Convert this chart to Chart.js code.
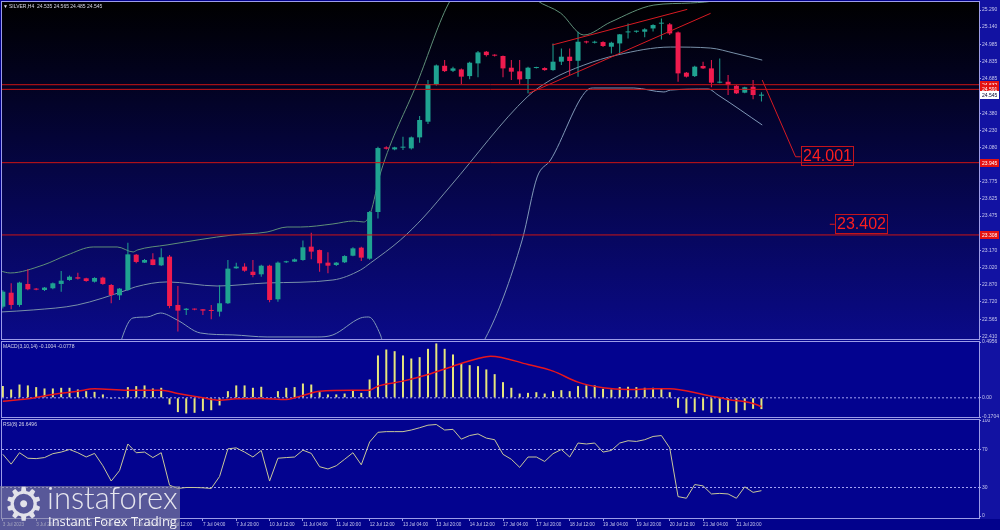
<!DOCTYPE html>
<html>
<head>
<meta charset="utf-8">
<script src="https://cdn.jsdelivr.net/npm/chart.js@4.4.1/dist/chart.umd.min.js"></script>
<style>
html,body{margin:0;padding:0;background:#02028c;width:1000px;height:530px;overflow:hidden;font-family:"Liberation Sans",Arial,sans-serif;}
#strip{position:absolute;left:979px;top:0;width:21px;height:519px;background:#1212a2;}
canvas{position:absolute;left:0;}
#cPrice{top:0;} #cMacd{top:336px;} #cRsi{top:419px;}
.lbl{position:absolute;color:#d8d8ea;font-size:5px;line-height:6px;white-space:nowrap;}
#logoBox{position:absolute;left:0;top:486px;width:180px;height:44px;background:rgba(140,140,160,0.62);}
#logoGear{position:absolute;left:3px;top:478px;font-size:46px;line-height:52px;color:#e2e2ea;font-family:"DejaVu Sans",sans-serif;}
#logoName{position:absolute;left:47px;top:479px;font-size:31px;line-height:36px;font-weight:300;color:#e6e6ee;font-family:Lato,"Open Sans",sans-serif;}
#logoTag{position:absolute;left:48px;top:513px;font-size:13px;line-height:16px;color:#f2f2f6;font-family:"Open Sans",sans-serif;}
</style>
</head>
<body>
<div id="strip"></div>
<canvas id="cPrice" width="1000" height="340"></canvas>
<canvas id="cMacd" width="1000" height="83"></canvas>
<canvas id="cRsi" width="1000" height="111"></canvas>
<div class="lbl" style="left:3px;top:3px;">&#9660;</div>
<div class="lbl" style="left:9px;top:3px;">SILVER,H4&nbsp; 24.535 24.565 24.485 24.545</div>
<div class="lbl" style="left:3px;top:343px;">MACD(3,10,14) -0.1004 -0.0778</div>
<div class="lbl" style="left:3px;top:421px;">RSI(8) 26.6496</div>
<div id="logoBox"></div>
<div id="logoGear">&#9881;</div>
<div id="logoName">instaforex</div>
<div id="logoTag">Instant Forex Trading</div>
<script>
// ---------- DATA ----------
const open = [22.676,22.799,22.691,22.876,22.835,22.823,22.838,22.876,22.911,22.935,
22.926,22.896,22.932,22.867,22.776,22.823,23.134,23.064,23.093,23.040,
23.117,22.691,22.647,22.655,22.653,22.647,22.632,22.706,23.014,23.029,
22.984,22.961,23.037,22.741,23.067,23.073,23.087,23.205,23.175,23.064,
23.043,23.067,23.125,23.196,23.099,23.510,24.080,24.062,24.077,24.071,
24.168,24.306,24.635,24.799,24.755,24.767,24.708,24.820,24.923,24.893,
24.885,24.782,24.750,24.682,24.779,24.779,24.761,24.835,24.879,24.843,
25.011,25.002,25.008,24.967,24.996,25.093,25.099,25.099,25.128,25.170,
25.164,25.093,24.738,24.708,24.797,24.776,24.650,24.658,24.623,24.562,
24.614,24.535];
const high = [22.82,22.882,22.895,23.005,22.84,22.85,22.89,22.99,22.95,22.975,
22.93,22.935,22.94,22.875,22.84,23.24,23.14,23.095,23.146,23.19,
23.131,22.858,22.665,22.66,22.655,22.691,22.867,23.087,23.064,23.058,
23.087,23.045,23.045,23.073,23.08,23.10,23.258,23.328,23.18,23.155,
23.07,23.13,23.20,23.205,23.52,24.085,24.09,24.085,24.174,24.175,
24.356,24.673,24.81,24.849,24.79,24.775,24.835,24.93,24.93,24.90,
24.89,24.849,24.849,24.79,24.79,24.785,24.996,24.952,24.952,25.099,
25.02,25.02,25.015,25.01,25.08,25.172,25.11,25.13,25.165,25.216,
25.175,25.10,24.745,24.80,24.835,24.849,24.864,24.717,24.63,24.615,
24.673,24.565];
const low = [22.66,22.653,22.676,22.82,22.82,22.815,22.83,22.808,22.905,22.915,
22.895,22.89,22.87,22.706,22.735,22.815,23.058,23.06,23.04,23.035,
22.661,22.456,22.603,22.645,22.603,22.565,22.59,22.70,23.01,22.984,
22.935,22.94,22.715,22.72,23.06,23.07,23.08,23.093,22.984,22.97,
23.035,23.06,23.12,23.079,23.09,23.454,24.06,24.055,24.056,24.06,
24.121,24.286,24.625,24.745,24.745,24.638,24.68,24.697,24.88,24.88,
24.697,24.673,24.638,24.556,24.775,24.755,24.755,24.805,24.717,24.703,
24.995,24.995,24.965,24.908,24.908,25.04,25.09,25.05,25.10,25.03,
25.07,24.658,24.695,24.70,24.77,24.609,24.645,24.541,24.55,24.556,
24.503,24.485];
const close = [22.808,22.691,22.888,22.829,22.826,22.844,22.882,22.905,22.940,22.923,
22.902,22.929,22.876,22.779,22.835,23.137,23.070,23.087,23.043,23.111,
22.682,22.641,22.658,22.650,22.641,22.638,22.706,23.011,23.029,22.993,
22.955,23.037,22.735,23.064,23.076,23.093,23.199,23.161,23.058,23.037,
23.064,23.122,23.190,23.108,23.510,24.074,24.068,24.080,24.086,24.168,
24.321,24.638,24.802,24.752,24.776,24.703,24.826,24.917,24.893,24.888,
24.776,24.747,24.679,24.782,24.785,24.761,24.835,24.879,24.841,25.011,
25.005,25.011,24.973,25.002,25.076,25.099,25.102,25.120,25.158,25.174,
25.084,24.732,24.703,24.791,24.776,24.650,24.656,24.629,24.556,24.609,
24.541,24.545];

// band lines (x = bar index, y = price)
const bandAX = [-0.3,0.88,4.84,7.72,10.84,13.72,15.64,16.12,19.7,27.6,31.7,34.1,35.7,39.6,42.1,43.3,44.1,45.3,49.7,53.7,58.8,64.0,66.9,69.7,72.9,78.1,82.5,85.8,91.2];
const bandAY = [22.990,22.973,23.043,23.131,23.202,23.202,23.158,23.175,23.220,23.308,23.334,23.378,23.378,23.405,23.431,23.422,23.501,23.854,24.647,25.378,25.75,25.378,25.264,25.070,25.184,25.334,25.352,25.378,25.51];
const bandBX = [-0.3,3.64,8.92,14.9,15.9,19.7,25.7,31.7,39.6,42.9,44.1,47.7,50.5,53.7,62.9,65.7,69.7,73.7,80.1,84.9,87.7,91.1];
const bandBY = [22.629,22.647,22.691,22.823,22.850,22.894,22.858,22.885,22.911,22.999,23.061,23.264,23.466,23.739,24.524,24.673,24.805,24.894,24.964,24.955,24.911,24.849];
const bandCX = [13.8,14.3,15.6,17.3,18.9,20.9,23.7,27.6,31.7,37.7,39.6,42.9,43.9,45.3,45.5,51.7,57.9,62.3,64.1,65.7,70.1,70.9,75.7,79.3,80.1,84.6,85.8,91.1];
const bandCY = [22.25,22.400,22.576,22.585,22.620,22.559,22.444,22.427,22.409,22.409,22.427,22.576,22.585,22.427,22.383,21.9,22.400,23.264,23.819,23.968,24.585,24.603,24.603,24.568,24.585,24.594,24.541,24.277];

// drawn trend channel, arrow and horizontal levels
const chan1X = [63.1,84.9], chan1Y = [24.556,25.261];
const chan2X = [65.9,82.1], chan2Y = [24.982,25.296];
const arrowX = [91.1,95.1,95.7], arrowY = [24.673,23.997,23.997];
const tickX = [99.2,99.8], tickY = [23.402,23.402];
const levels = [24.632,24.591,23.945,23.308];
const annX = [95.7,99.8], annY = [24.001,23.402];

const priceTicks = [25.290,25.140,24.985,24.835,24.685,24.380,24.230,24.080,23.930,23.775,23.625,23.475,23.170,23.020,22.870,22.720,22.565,22.410];

const macdHist = [0.104,0.074,0.118,0.110,0.095,0.083,0.083,0.089,0.089,0.074,
0.059,0.053,0.030,-0.009,-0.009,0.095,0.104,0.110,0.083,0.089,
-0.059,-0.127,-0.139,-0.133,-0.118,-0.110,-0.068,0.059,0.110,0.110,
0.089,0.098,-0.009,0.059,0.089,0.095,0.127,0.118,0.050,0.030,
0.030,0.038,0.068,0.044,0.163,0.376,0.429,0.414,0.376,0.349,
0.361,0.435,0.483,0.435,0.385,0.305,0.290,0.281,0.252,0.210,
0.139,0.089,0.038,0.044,0.050,0.038,0.059,0.068,0.059,0.104,
0.110,0.110,0.080,0.074,0.095,0.098,0.095,0.089,0.089,0.080,
0.050,-0.089,-0.139,-0.127,-0.112,-0.133,-0.133,-0.127,-0.133,-0.110,
-0.098,-0.1004];
const signalX = [0,3,6,9,11,15,19,21,24,26,28,31,34,36,38,42,44,45,48,51,54,57,58.5,63,66,69,72,75,78,80,84,87,90,91];
const signalY = [-0.030,-0.009,0.030,0.059,0.080,0.068,0.068,0.038,0.000,-0.021,-0.009,-0.006,-0.015,0.021,0.059,0.068,0.068,0.104,0.148,0.207,0.281,0.349,0.370,0.296,0.237,0.139,0.089,0.074,0.080,0.080,0.030,-0.015,-0.050,-0.0778];
const macdTicks = [0.4956,0,-0.1704];
const macdTickLabels = ['0.4956','0.00','-0.1704'];

const rsi = [64.9,54.6,66.6,60.8,60.4,61.5,65.6,67.3,70.0,66.6,
62.1,65.9,52.9,36.8,47.8,75.8,66.6,67.3,61.5,66.6,
32.4,29.0,30.0,30.0,29.7,29.0,41.6,70.7,71.7,67.3,
62.1,69.0,36.8,60.8,61.5,62.1,69.3,65.9,51.9,49.5,
52.9,59.7,66.6,53.9,77.9,88.1,88.8,88.8,88.8,90.5,
92.9,95.6,96.3,90.5,91.2,80.9,84.7,86.4,82.0,80.3,
64.9,59.7,51.2,62.1,62.1,57.4,65.6,70.0,62.1,76.8,
75.8,76.8,67.3,69.0,76.8,79.2,78.5,80.3,83.7,84.7,
71.7,20.4,18.7,33.1,31.7,23.2,23.8,23.2,18.7,30.7,
24.9,26.65];
const rsiLevels = [70,30];
const rsiTicks = [100,70,30,0];

const xTickIdx = [0,4,8,12,16,20,24,28,32,36,40,44,48,52,56,60,64,68,72,76,80,84,88];
const xTickLabels = ['3 Jul 2023','3 Jul 20:00','4 Jul 12:00','5 Jul 04:00','5 Jul 20:00','6 Jul 12:00','7 Jul 04:00','7 Jul 20:00','10 Jul 12:00','11 Jul 04:00','11 Jul 20:00','12 Jul 12:00','13 Jul 04:00','13 Jul 20:00','14 Jul 12:00','17 Jul 04:00','17 Jul 20:00','18 Jul 12:00','19 Jul 04:00','19 Jul 20:00','20 Jul 12:00','21 Jul 04:00','21 Jul 20:00'];

// ---------- CHARTS ----------
const xMin = -0.1, xMax = 117.1;
const FONT = '"Liberation Sans", Arial, sans-serif';
Chart.defaults.font.family = FONT;
const AXIS = '#9c9ce8', TXT = '#c8c8ee';
const idx = open.map((_, i) => i);
const candleColors = idx.map(i => close[i] >= open[i] ? '#1fa391' : '#ef1b4e');
const pts = (xs, ys) => xs.map((x, i) => ({x, y: ys[i]}));
const hline = v => [{x: xMin, y: v}, {x: xMax, y: v}];
const lineDs = (data, color, extra) => Object.assign({type: 'line', data, borderColor: color, borderWidth: 1, pointRadius: 0, fill: false}, extra || {});

const panelPlugin = {
  id: 'panel',
  beforeDraw(chart, args, opts) {
    const {ctx, chartArea: a} = chart;
    ctx.save();
    if (opts.gradient) {
      const g = ctx.createLinearGradient(0, a.top, 0, a.bottom);
      g.addColorStop(0, opts.gradient[0]);
      g.addColorStop(1, opts.gradient[1]);
      ctx.fillStyle = g;
    } else {
      ctx.fillStyle = opts.bg;
    }
    ctx.fillRect(a.left, a.top, a.right - a.left, a.bottom - a.top);
    ctx.restore();
  },
  afterDraw(chart) {
    const {ctx, chartArea: a} = chart;
    ctx.save();
    ctx.strokeStyle = AXIS;
    ctx.lineWidth = 1;
    ctx.strokeRect(a.left - 0.5, a.top - 0.5, a.right - a.left + 1, a.bottom - a.top + 1);
    ctx.restore();
  }
};

const annotPlugin = {
  id: 'annot',
  afterDatasetsDraw(chart) {
    const {ctx, scales: {x, y}} = chart;
    ctx.save();
    ctx.font = '16px ' + FONT;
    ctx.textBaseline = 'middle';
    annX.forEach((ax, k) => {
      const px = Math.round(x.getPixelForValue(ax));
      const py = Math.round(y.getPixelForValue(annY[k]));
      const t = annY[k].toFixed(3);
      const w = Math.round(ctx.measureText(t).width + 3);
      ctx.strokeStyle = '#c4141c';
      ctx.lineWidth = 1;
      ctx.strokeRect(px + 0.5, py - 9.5, w, 19);
      ctx.fillStyle = '#ff1e1e';
      ctx.fillText(t, px + 2, py + 1);
    });
    ctx.restore();
  },
  afterDraw(chart) {
    const {ctx, chartArea: a, scales: {y}} = chart;
    ctx.save();
    ctx.font = '5px ' + FONT;
    ctx.textBaseline = 'middle';
    const tag = (v, bg, fg) => {
      const py = Math.round(y.getPixelForValue(v));
      ctx.fillStyle = bg;
      ctx.fillRect(a.right + 1, py - 4, 19, 8);
      ctx.fillStyle = fg;
      ctx.fillText(v.toFixed(3), a.right + 3, py + 0.5);
    };
    levels.forEach(v => tag(v, '#e41212', '#ffffff'));
    tag(close[close.length - 1], '#ffffff', '#000030');
    ctx.restore();
  }
};

const hiddenX = {type: 'linear', min: xMin, max: xMax, offset: false, display: false};
const rightY = (min, max, ticks, labels) => ({
  type: 'linear', position: 'right', min, max, stacked: false,
  afterBuildTicks: s => { s.ticks = ticks.map(v => ({value: v})); },
  afterFit: s => { s.width = 21; s.paddingTop = 0; s.paddingBottom = 0; },
  grid: {display: true, drawOnChartArea: false, drawTicks: true, tickLength: 2, color: AXIS},
  border: {display: false},
  ticks: {color: TXT, font: {size: 5}, padding: 1, autoSkip: false,
          callback: (v, i) => labels ? labels[i] : Number(v).toFixed(3)}
});
const baseOpts = (pad, extraPlugins) => ({
  responsive: false, animation: false, events: [],
  layout: {padding: pad},
  plugins: Object.assign({legend: {display: false}, tooltip: {enabled: false}}, extraPlugins)
});

// Price panel
new Chart(document.getElementById('cPrice'), {
  type: 'bar',
  data: {datasets: [
    ...levels.map(v => lineDs(hline(v), '#cc1414', {order: 1})),
    lineDs(pts(chan1X, chan1Y), '#d81a22', {order: 1}),
    lineDs(pts(chan2X, chan2Y), '#d81a22', {order: 1}),
    lineDs(pts(arrowX, arrowY), '#d81a22', {order: 1}),
    lineDs(pts(tickX, tickY), '#d81a22', {order: 1}),
    lineDs(pts(bandAX, bandAY), '#5f8f78', {order: 6, cubicInterpolationMode: 'monotone'}),
    lineDs(pts(bandBX, bandBY), '#7890a8', {order: 6, cubicInterpolationMode: 'monotone'}),
    lineDs(pts(bandCX, bandCY), '#8098b8', {order: 6, cubicInterpolationMode: 'monotone'}),
    {type: 'bar', data: idx.map(i => ({x: i, y: [low[i], high[i]]})), backgroundColor: candleColors,
     grouped: false, maxBarThickness: 1, order: 5},
    {type: 'bar', data: idx.map(i => ({x: i, y: [open[i], close[i]]})), backgroundColor: candleColors,
     grouped: false, maxBarThickness: 5, minBarLength: 1, order: 4}
  ]},
  options: Object.assign(baseOpts({left: 2, top: 2, right: 0, bottom: 1}, {panel: {gradient: ['#000000', '#0a0a88']}}), {
    scales: {x: hiddenX, y: rightY(22.391, 25.361, priceTicks, null)}
  }),
  plugins: [panelPlugin, annotPlugin]
});

// MACD panel
new Chart(document.getElementById('cMacd'), {
  type: 'bar',
  data: {datasets: [
    lineDs(pts(signalX, signalY), '#e8161c', {borderWidth: 1.5, order: 1, cubicInterpolationMode: 'monotone'}),
    lineDs(hline(0), '#a4a4f4', {borderDash: [2, 2], order: 3}),
    {type: 'bar', data: idx.map(i => ({x: i, y: macdHist[i]})), backgroundColor: '#e6e67c',
     grouped: false, maxBarThickness: 2, order: 2}
  ]},
  options: Object.assign(baseOpts({left: 2, top: 6, right: 0, bottom: 2}, {panel: {bg: '#03038f'}}), {
    scales: {x: hiddenX, y: rightY(-0.1704, 0.4956, macdTicks, macdTickLabels)}
  }),
  plugins: [panelPlugin]
});

// RSI panel with the shared time axis
new Chart(document.getElementById('cRsi'), {
  type: 'line',
  data: {datasets: [
    lineDs(idx.map(i => ({x: i, y: rsi[i]})), '#c8c89a', {order: 1}),
    ...rsiLevels.map(v => lineDs(hline(v), '#a4a4f4', {borderDash: [2, 2], order: 2}))
  ]},
  options: Object.assign(baseOpts({left: 2, top: 1, right: 0, bottom: 0}, {panel: {bg: '#03038f'}}), {
    scales: {
      x: {type: 'linear', min: xMin, max: xMax, offset: false, position: 'bottom',
          afterBuildTicks: s => { s.ticks = xTickIdx.map(v => ({value: v})); },
          afterFit: s => { s.height = 12; },
          grid: {display: true, drawOnChartArea: false, drawTicks: true, tickLength: 3, color: AXIS},
          border: {display: false},
          ticks: {align: 'start', color: TXT, font: {size: 4.6}, padding: 1, autoSkip: false,
                  maxRotation: 0, minRotation: 0, callback: (v, i) => xTickLabels[i]}},
      y: rightY(-2.105, 101.05, rsiTicks, rsiTicks.map(String))
    }
  }),
  plugins: [panelPlugin]
});
</script>
</body>
</html>
